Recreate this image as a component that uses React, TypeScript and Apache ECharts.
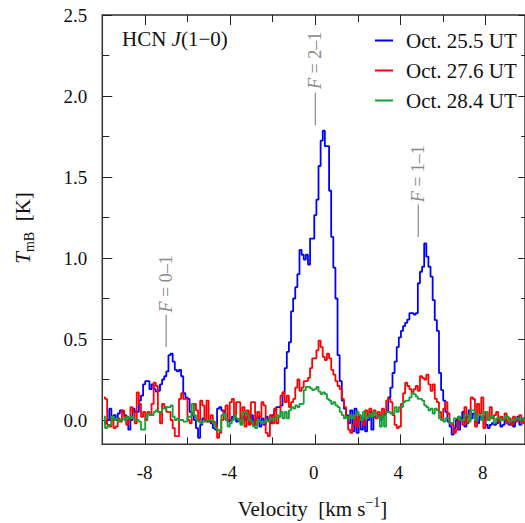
import React, { useEffect, useRef } from 'react';
import * as echarts from 'echarts';

// Velocity channel grid (km/s): centre of first channel and channel width
const V_START = -9.92;
const V_STEP = 0.1;

// T_mB (K) per channel
const blueOct255 = [
  -0.01, -0.02, 0.0, 0.07, 0.0, 0.03, 0.0, 0.04, 0.06, 0.05,
  0.03, 0.02, -0.06, 0.0, 0.07, 0.05, 0.05, 0.12, 0.15, 0.22,
  0.24, 0.24, 0.19, 0.22, 0.19, 0.175, 0.18, 0.22, 0.25, 0.27,
  0.30, 0.40, 0.41, 0.36, 0.31, 0.30, 0.31, 0.27, 0.165, 0.14,
  0.13, 0.05, 0.03, 0.0, -0.05, -0.11, -0.03, 0.01, 0.0, -0.01,
  0.0, -0.02, -0.05, -0.06, 0.07, 0.08, 0.06, 0.05, 0.0, -0.01,
  0.0, 0.02, 0.03, -0.01, 0.0, 0.01, 0.02, 0.0, 0.04, -0.02,
  0.03, -0.03, 0.0, 0.02, -0.04, 0.01, -0.03, 0.02, 0.0, -0.02,
  0.03, 0.06, 0.08, 0.08, 0.09, 0.17, 0.32, 0.42, 0.48, 0.67,
  0.75, 0.82, 0.90, 1.05, 1.02, 0.99, 1.02, 0.96, 1.12, 1.12,
  1.265, 1.36, 1.568, 1.724, 1.786, 1.69, 1.69, 1.415, 1.13, 0.94,
  0.75, 0.40, 0.24, 0.12, 0.07, 0.03, -0.02, 0.06, -0.07, 0.07,
  -0.08, 0.02, -0.06, 0.01, -0.07, 0.0, 0.05, -0.06, 0.02, 0.03,
  0.03, 0.0, 0.02, 0.04, 0.05, 0.14, 0.20, 0.29, 0.36, 0.45,
  0.51, 0.55, 0.58, 0.60, 0.62, 0.66, 0.66, 0.65, 0.66, 0.844,
  0.915, 0.946, 1.09, 1.008, 0.946, 0.885, 0.74, 0.617, 0.55, 0.29,
  0.185, 0.12, 0.05, -0.01, -0.04, -0.09, -0.05, 0.0, -0.06, 0.01,
  0.05, -0.04, 0.02, 0.06, 0.01, 0.04, -0.01, -0.02, 0.02, 0.0,
  0.02, -0.03, -0.05, -0.03, -0.02, -0.03, -0.02, 0.01, -0.04, -0.03,
  0.0, -0.02, -0.03, 0.0, -0.04, -0.01, 0.02, -0.03, 0.0, 0.01,
];

const redOct276 = [
  0.14, 0.13, -0.03, -0.04, 0.0, -0.05, -0.04, 0.01, -0.01, 0.06,
  0.02, -0.03, 0.0, 0.08, 0.05, -0.02, 0.17, 0.10, 0.02, 0.05,
  0.0, 0.05, 0.03, 0.10, 0.23, 0.21, 0.05, -0.02, 0.10, 0.08,
  0.05, 0.05, 0.0, -0.05, -0.10, -0.10, 0.13, 0.165, 0.13, 0.13,
  0.0, -0.02, 0.04, 0.10, 0.06, 0.0, 0.12, 0.09, 0.0, 0.12,
  -0.01, 0.03, -0.01, -0.03, -0.11, -0.08, 0.0, 0.06, 0.09, 0.0,
  0.11, 0.13, 0.02, 0.11, 0.11, -0.02, 0.08, -0.04, 0.06, -0.03,
  0.11, 0.11, -0.03, 0.05, 0.02, 0.11, 0.09, -0.08, -0.10, 0.03,
  -0.02, 0.07, -0.02, 0.02, 0.15, 0.17, 0.11, 0.15, 0.08, 0.11,
  0.13, 0.20, 0.25, 0.18, 0.20, 0.24, 0.24, 0.26, 0.32, 0.38,
  0.38, 0.43, 0.49, 0.45, 0.39, 0.37, 0.41, 0.38, 0.31, 0.28,
  0.24, 0.21, 0.19, 0.13, 0.08, 0.02, -0.06, -0.08, -0.03, 0.02,
  -0.04, 0.03, 0.0, -0.03, 0.06, 0.02, 0.07, 0.04, 0.06, 0.01,
  0.05, 0.02, 0.07, 0.03, 0.12, 0.13, 0.11, 0.03, -0.03, -0.05,
  -0.04, 0.10, 0.165, 0.23, 0.21, 0.19, 0.17, 0.19, 0.21, 0.18,
  0.27, 0.26, 0.25, 0.28, 0.22, 0.18, 0.22, 0.13, 0.11, 0.05,
  0.0, 0.07, 0.11, 0.04, -0.02, -0.03, -0.08, -0.06, 0.02, 0.0,
  -0.03, 0.08, -0.02, 0.03, 0.14, 0.13, -0.04, 0.10, 0.04, 0.14,
  -0.05, 0.05, 0.0, 0.08, 0.01, 0.03, 0.05, -0.01, 0.02, 0.0,
  0.04, -0.02, 0.01, -0.03, 0.02, -0.01, 0.0, 0.03, -0.02, 0.01,
];

const greenOct284 = [
  0.02, -0.05, -0.04, -0.03, 0.02, 0.0, 0.01, -0.01, 0.0, 0.01,
  0.0, 0.02, 0.01, 0.02, 0.01, 0.0, 0.0, -0.01, -0.06, -0.06,
  0.01, 0.04, 0.03, 0.03, 0.05, 0.06, 0.05, 0.05, 0.07, 0.07,
  0.08, 0.08, 0.09, 0.02, 0.0, 0.01, 0.0, 0.0, -0.01, -0.01,
  0.02, 0.02, 0.10, 0.03, 0.0, -0.01, -0.02, -0.01, -0.01, 0.0,
  0.0, 0.0, -0.02, -0.05, -0.06, -0.07, 0.03, 0.04, 0.0, -0.04,
  -0.02, 0.0, 0.03, 0.01, 0.0, -0.03, 0.05, 0.05, 0.03, 0.0,
  -0.01, -0.04, -0.05, 0.0, -0.01, -0.02, -0.01, 0.0, -0.01, 0.01,
  0.0, 0.01, 0.03, 0.02, 0.05, 0.01, 0.05, 0.01, 0.06, 0.08,
  0.07, 0.09, 0.08, 0.10, 0.10, 0.185, 0.205, 0.205, 0.195, 0.185,
  0.19, 0.205, 0.175, 0.16, 0.17, 0.16, 0.13, 0.12, 0.10, 0.11,
  0.09, 0.08, 0.05, 0.03, 0.01, 0.02, 0.01, 0.03, 0.01, 0.03,
  0.05, 0.03, 0.0, 0.05, 0.01, 0.02, 0.04, 0.02, 0.05, 0.03,
  0.02, -0.04, 0.03, -0.04, 0.05, 0.05, 0.04, 0.04, 0.08, 0.05,
  0.08, 0.08, 0.11, 0.12, 0.12, 0.14, 0.165, 0.16, 0.145, 0.13,
  0.13, 0.12, 0.09, 0.08, 0.06, 0.07, 0.04, 0.07, 0.06, 0.01,
  0.0, -0.01, 0.01, 0.01, -0.02, -0.02, 0.01, 0.01, 0.02, 0.0,
  0.0, 0.03, 0.03, -0.01, 0.06, 0.06, 0.0, 0.03, 0.03, 0.0,
  0.05, 0.05, 0.0, 0.02, 0.02, -0.02, 0.01, 0.01, 0.0, 0.0,
  0.02, 0.02, -0.01, 0.0, 0.0, 0.01, 0.01, 0.0, 0.01, 0.0,
];

const seriesNames = ['Oct. 25.5 UT', 'Oct. 27.6 UT', 'Oct. 28.4 UT'];
const seriesColors = ['#0000ff', '#ff0000', '#12a032'];
const seriesValues = [blueOct255, redOct276, greenOct284];

// Axis ranges and tick layout
const X_MIN = -10;
const X_MAX = 10;
const X_TICK_MIN = -8;
const X_TICK_MAX = 8;
const X_INTERVAL = 4;
const Y_MIN = -0.15;
const Y_MAX = 2.5;
const Y_TICK_MIN = 0;
const Y_INTERVAL = 0.5;

// Tick labels
const xTickValues = [-8, -4, 0, 4, 8];
const xTickLabels = ['-8', '-4', '0', '4', '8'];
const yTickValues = [0, 0.5, 1, 1.5, 2, 2.5];
const yTickLabels = ['0.0', '0.5', '1.0', '1.5', '2.0', '2.5'];

// Hyperfine component annotations: label, velocity, line span, text centre (K)
const hfLabels = ['0–1', '2–1', '1–1'];
const hfVelocity = [-6.98, 0.08, 4.95];
const hfLineBottom = [0.45, 1.82, 1.13];
const hfLineTop = [0.65, 2.02, 1.33];
const hfTextCentre = [0.84, 2.22, 1.52];

const FONT = 'Liberation Serif, Times New Roman, serif';

// plot frame in pixels
const L = 102.3;
const T = 15;
const W = 426;
const H = 429.3;

export default function App() {
  const ref = useRef<HTMLDivElement>(null);

  useEffect(() => {
    if (!ref.current) return;
    const chart = echarts.init(ref.current, null, { renderer: 'svg' });

    const xSpan = X_MAX - X_MIN;
    const ySpan = Y_MAX - Y_MIN;
    const g1Left = L + ((X_TICK_MIN - X_MIN) / xSpan) * W;
    const g1Width = ((X_TICK_MAX - X_TICK_MIN) / xSpan) * W;
    const g1Height = ((Y_MAX - Y_TICK_MIN) / ySpan) * H;
    const xOffset = g1Left - L;
    const yOffset = H - g1Height;

    const tickStyle = { color: '#222', width: 1 };
    const majorTick = { show: true, inside: true, length: 10, lineStyle: tickStyle };
    const minorTick = { show: true, splitNumber: 2, length: 7, lineStyle: tickStyle };
    const noLine = { show: false, onZero: false };

    const series = seriesValues.map((vals, k) => ({
      name: seriesNames[k],
      type: 'line',
      step: 'middle',
      xAxisIndex: 0,
      yAxisIndex: 0,
      showSymbol: false,
      symbol: 'none',
      clip: true,
      lineStyle: { color: seriesColors[k], width: 1.8 },
      itemStyle: { color: seriesColors[k] },
      data: vals.map((y, i) => [Number((V_START + V_STEP * i).toFixed(2)), y]),
    }));

    const tickAxis = (pos: string, offset: number, min: number, max: number, interval: number) => ({
      gridIndex: 1, type: 'value', min, max, interval,
      position: pos, offset,
      axisLine: noLine, axisTick: majorTick, minorTick,
      splitLine: { show: false }, minorSplitLine: { show: false },
      axisLabel: { show: false },
    });

    chart.setOption({
      animation: false,
      backgroundColor: '#fff',
      textStyle: { fontFamily: FONT },
      grid: [
        { left: L, top: T, width: W, height: H, show: true, borderColor: '#333', borderWidth: 1.5, backgroundColor: 'transparent' },
        { left: g1Left, top: T, width: g1Width, height: g1Height, show: false },
      ],
      xAxis: [
        { gridIndex: 0, type: 'value', min: X_MIN, max: X_MAX, show: false, axisLine: { onZero: false } },
        tickAxis('bottom', yOffset, X_TICK_MIN, X_TICK_MAX, X_INTERVAL),
        tickAxis('top', 0, X_TICK_MIN, X_TICK_MAX, X_INTERVAL),
      ],
      yAxis: [
        { gridIndex: 0, type: 'value', min: Y_MIN, max: Y_MAX, show: false, axisLine: { onZero: false } },
        tickAxis('left', xOffset, Y_TICK_MIN, Y_MAX, Y_INTERVAL),
        tickAxis('right', xOffset, Y_TICK_MIN, Y_MAX, Y_INTERVAL),
      ],
      legend: {
        orient: 'vertical',
        left: 370,
        top: 25,
        icon: 'rect',
        itemWidth: 18,
        itemHeight: 2,
        itemGap: 9,
        data: seriesNames,
        selectedMode: false,
        textStyle: { fontSize: 21, lineHeight: 21, fontFamily: FONT, color: '#111', padding: [0, 0, 0, 8] },
      },
      series,
    });

    const toPx = (x: number, y: number) => chart.convertToPixel({ seriesIndex: 0 }, [x, y]) as number[];
    const graphics: any[] = [];

    // tick labels
    xTickValues.forEach((v, k) => {
      const p = toPx(v, Y_MIN);
      graphics.push({
        type: 'text', x: p[0], y: p[1] + 28, z: 10,
        style: { text: xTickLabels[k], fontSize: 19, fontFamily: FONT, fill: '#111', align: 'center', verticalAlign: 'middle' },
      });
    });
    yTickValues.forEach((v, k) => {
      const p = toPx(X_MIN, v);
      graphics.push({
        type: 'text', x: p[0] - 15, y: p[1], z: 10,
        style: { text: yTickLabels[k], fontSize: 19, fontFamily: FONT, fill: '#111', align: 'right', verticalAlign: 'middle' },
      });
    });

    // annotations anchored in data coordinates
    hfLabels.forEach((lab, k) => {
      const pBot = toPx(hfVelocity[k], hfLineBottom[k]);
      const pTop = toPx(hfVelocity[k], hfLineTop[k]);
      const pTxt = toPx(hfVelocity[k], hfTextCentre[k]);
      graphics.push({
        type: 'line',
        shape: { x1: pBot[0], y1: pBot[1], x2: pTop[0], y2: pTop[1] },
        style: { stroke: '#8a8a8a', lineWidth: 1.2 },
        z: 10,
      });
      graphics.push({
        type: 'text',
        x: pTxt[0],
        y: pTxt[1],
        rotation: Math.PI / 2,
        z: 10,
        style: {
          text: `{f|F}{n| = ${lab}}`,
          align: 'center',
          verticalAlign: 'middle',
          rich: {
            f: { fontStyle: 'italic', fontSize: 18, fontFamily: FONT, fill: '#8a8a8a' },
            n: { fontSize: 18, fontFamily: FONT, fill: '#8a8a8a' },
          },
        },
      });
    });

    // top-left label
    graphics.push({
      type: 'text',
      x: 122,
      y: 38.5,
      z: 10,
      style: {
        text: '{a|HCN }{i|J}{a|(1−0)}',
        align: 'left',
        verticalAlign: 'middle',
        rich: {
          a: { fontSize: 21, fontFamily: FONT, fill: '#111' },
          i: { fontSize: 21, fontFamily: FONT, fontStyle: 'italic', fill: '#111' },
        },
      },
    });

    // x-axis title
    graphics.push({
      type: 'text',
      x: 312.5,
      y: 507.5,
      z: 10,
      style: {
        text: '{a|Velocity  [km s}{s|−1}{a|]}',
        align: 'center',
        verticalAlign: 'middle',
        rich: {
          a: { fontSize: 21, fontFamily: FONT, fill: '#111', verticalAlign: 'bottom', padding: [3, 0, 0, 0] },
          s: { fontSize: 14, fontFamily: FONT, fill: '#111', verticalAlign: 'top' },
        },
      },
    });

    // y-axis title
    graphics.push({
      type: 'text',
      x: 24.5,
      y: 228,
      rotation: Math.PI / 2,
      z: 10,
      style: {
        text: '{t|T}{s|mB}{a|  [K]}',
        align: 'center',
        verticalAlign: 'middle',
        rich: {
          t: { fontSize: 21, fontFamily: FONT, fontStyle: 'italic', fill: '#111', verticalAlign: 'top' },
          s: { fontSize: 14, fontFamily: FONT, fill: '#111', verticalAlign: 'top', padding: [10, 0, 0, 0] },
          a: { fontSize: 21, fontFamily: FONT, fill: '#111', verticalAlign: 'top' },
        },
      },
    });

    chart.setOption({ graphic: graphics });

    return () => chart.dispose();
  }, []);

  return (
    <div
      ref={ref}
      style={{ position: 'fixed', left: 0, top: 0, width: 525, height: 523, background: '#fff' }}
    />
  );
}
